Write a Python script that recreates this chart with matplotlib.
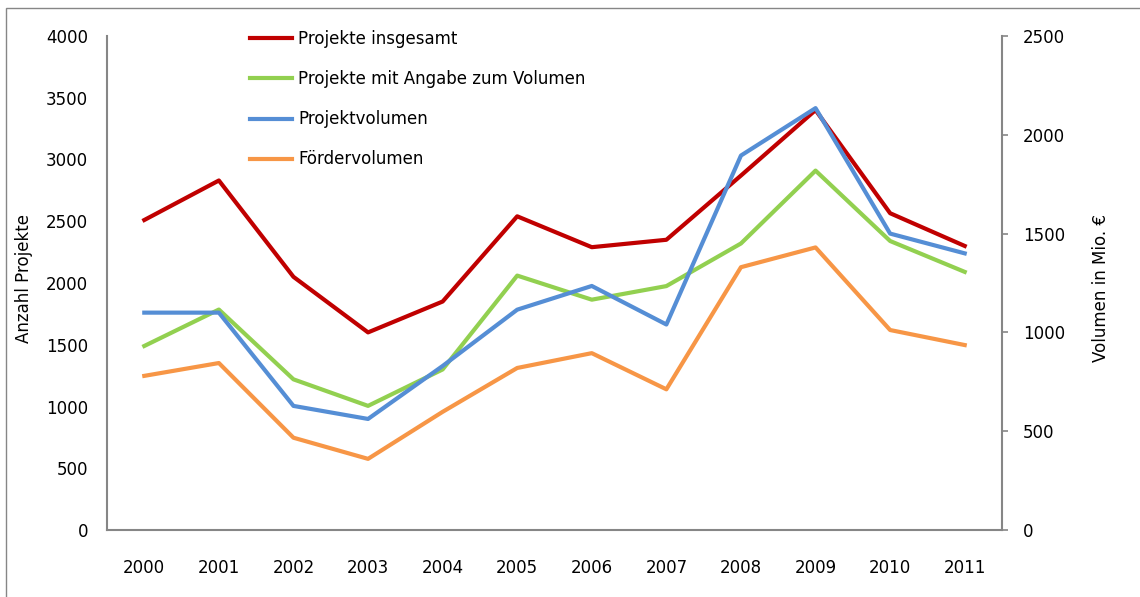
import matplotlib.pyplot as plt
import numpy as np
from matplotlib.patches import Rectangle

years = ['2000', '2001', '2002', '2003', '2004', '2005',
         '2006', '2007', '2008', '2009', '2010', '2011']

projekte_insgesamt = [2510, 2830, 2050, 1600, 1850, 2540, 2290, 2350, 2870, 3400, 2565, 2300]
projekte_mit_volumen = [1490, 1785, 1220, 1005, 1300, 2060, 1865, 1975, 2320, 2910, 2340, 2090]
projektvolumen = [1100, 1100, 628, 562, 830, 1115, 1235, 1040, 1895, 2135, 1500, 1400]
foerdervolumen = [780, 845, 467, 360, 598, 820, 895, 712, 1330, 1430, 1012, 936]

left_ticks = [0, 500, 1000, 1500, 2000, 2500, 3000, 3500, 4000]
right_ticks = [0, 500, 1000, 1500, 2000, 2500]

RED = '#c00000'
GREEN = '#92d050'
BLUE = '#558ed5'
ORANGE = '#f79646'
AXIS_GRAY = '#868686'

plt.rcParams['font.family'] = ['DejaVu Sans']
plt.rcParams['font.size'] = 12


def style_axis(ax):
    for side in ['left', 'right', 'top', 'bottom']:
        ax.spines[side].set_visible(False)


def main():
    fig = plt.figure(figsize=(11.4, 5.97), dpi=100)
    ax = fig.add_axes([107 / 1140, 67 / 597, 895 / 1140, 494 / 597])
    ax2 = ax.twinx()

    # outer chart frame (Excel style)
    fig.patches.append(Rectangle((6 / 1140, -0.1), 1.2, (597 - 8) / 597 + 0.1,
                                 transform=fig.transFigure, fill=False,
                                 edgecolor=AXIS_GRAY, linewidth=1.0))

    x = np.arange(len(years))

    l1, = ax.plot(x, projekte_insgesamt, color=RED, lw=3)
    l2, = ax.plot(x, projekte_mit_volumen, color=GREEN, lw=3)
    l3, = ax2.plot(x, projektvolumen, color=BLUE, lw=3)
    l4, = ax2.plot(x, foerdervolumen, color=ORANGE, lw=3)

    ax.set_xlim(-0.5, len(years) - 0.5)
    ax.set_ylim(0, 4000)
    ax2.set_ylim(0, 2500)

    style_axis(ax)
    style_axis(ax2)
    ax.spines['left'].set_visible(True)
    ax.spines['bottom'].set_visible(True)
    ax2.spines['right'].set_visible(True)
    for sp in [ax.spines['left'], ax.spines['bottom'], ax2.spines['right']]:
        sp.set_color(AXIS_GRAY)
        sp.set_linewidth(1.5)

    ax.set_yticks(left_ticks)
    ax.set_yticklabels([str(t) for t in left_ticks])
    ax.tick_params(axis='y', length=0, pad=13.5)
    ax.set_xticks(x)
    ax.set_xticklabels(years)
    ax.tick_params(axis='x', length=0, pad=21)

    ax2.set_yticks(right_ticks)
    ax2.set_yticklabels([str(t) for t in right_ticks])
    ax2.tick_params(axis='y', length=4, width=1.2, color=AXIS_GRAY, pad=11)

    ax.set_ylabel('Anzahl Projekte')
    ax.yaxis.set_label_coords((33 - 107) / 895, 0.51)
    ax2.set_ylabel('Volumen in Mio. €')
    ax2.yaxis.set_label_coords((1092 - 107) / 895, 0.49)

    fig.legend([l1, l2, l3, l4],
               ['Projekte insgesamt', 'Projekte mit Angabe zum Volumen',
                'Projektvolumen', 'Fördervolumen'],
               loc='upper left', bbox_to_anchor=(235 / 1140, 1 - 15 / 597),
               frameon=False, handlelength=2.5, handletextpad=0.4,
               labelspacing=1.33, borderpad=0.4)

    fig.savefig('out.png', dpi=100)


if __name__ == "__main__":
    main()
